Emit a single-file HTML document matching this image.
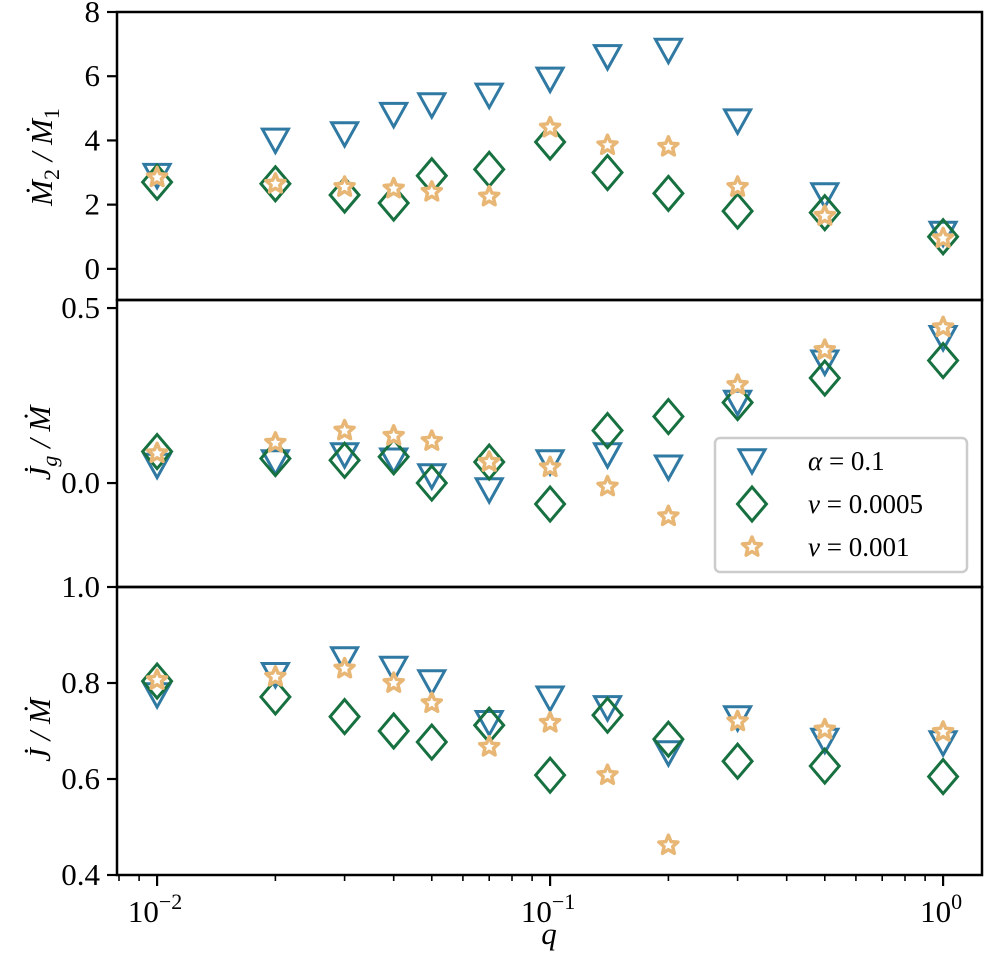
<!DOCTYPE html>
<html><head><meta charset="utf-8"><style>
body{margin:0;background:#fff}
svg{display:block}
text{font-family:"Liberation Serif","DejaVu Serif",serif;fill:#000}
</style></head><body>
<svg id="chart" width="985" height="956" viewBox="0 0 985 956" xmlns="http://www.w3.org/2000/svg"></svg>
<script>
const qValues = [0.01,0.02,0.03,0.04,0.05,0.07,0.1,0.14,0.2,0.3,0.5,1.0];
const mdotAlpha = [2.9,4.0,4.2,4.8,5.1,5.4,5.9,6.6,6.8,4.6,2.3,1.1];
const mdotNu5 = [2.7,2.65,2.3,2.05,2.9,3.1,3.95,3.0,2.35,1.8,1.75,1.0];
const mdotNu1 = [2.85,2.65,2.55,2.5,2.4,2.25,4.4,3.85,3.8,2.55,1.65,0.95];
const jgAlpha = [0.05,0.06,0.08,0.065,0.02,-0.02,0.06,0.08,0.045,0.23,0.345,0.415];
const jgNu5 = [0.09,0.07,0.065,0.075,0.0,0.06,-0.06,0.15,0.19,0.23,0.3,0.35];
const jgNu1 = [0.085,0.115,0.15,0.135,0.12,0.06,0.045,-0.01,-0.095,0.28,0.38,0.445];
const jAlpha = [0.775,0.817,0.85,0.83,0.802,0.717,0.768,0.748,0.654,0.727,0.68,0.675];
const jNu5 = [0.804,0.771,0.73,0.70,0.677,0.712,0.608,0.733,0.683,0.637,0.627,0.605];
const jNu1 = [0.806,0.813,0.83,0.8,0.758,0.667,0.717,0.608,0.462,0.72,0.703,0.698];
const panel1Ticks = [0,2,4,6,8];
const panel1TickLabels = ["0","2","4","6","8"];
const panel2Ticks = [0,0.5];
const panel2TickLabels = ["0.0","0.5"];
const panel3Ticks = [0.4,0.6,0.8,1.0];
const panel3TickLabels = ["0.4","0.6","0.8","1.0"];
const xMajorTicks = [-2,-1,0];
const xMajorLabels = ["\u22122","\u22121","0"];
const legendLabels = ["\u03b1 = 0.1","\u03bd = 0.0005","\u03bd = 0.001"];

const NS="http://www.w3.org/2000/svg";
const svg=document.getElementById('chart');
const C={a:'#2f79a3',n5:'#17703f',n1:'#e8b776'};
const L=117,R=982;
const xMin=-2.102,xMax=0.099;
function xs(q){return L+(Math.log10(q)-xMin)/(xMax-xMin)*(R-L);}
function mk(tag,attrs,parent){const e=document.createElementNS(NS,tag);for(const k in attrs)e.setAttribute(k,attrs[k]);(parent||svg).appendChild(e);return e;}
function ysF(top,bot,v0,v1){return v=>bot-(v-v0)/(v1-v0)*(bot-top);}

const panels=[
 {top:12,bot:300,v0:-0.97,v1:8.0,ticks:panel1Ticks,labels:panel1TickLabels,series:[mdotAlpha,mdotNu5,mdotNu1],name:'mdot-ratio'},
 {top:300,bot:587,v0:-0.297,v1:0.523,ticks:panel2Ticks,labels:panel2TickLabels,series:[jgAlpha,jgNu5,jgNu1],name:'jg-ratio'},
 {top:587,bot:875,v0:0.4,v1:1.0,ticks:panel3Ticks,labels:panel3TickLabels,series:[jAlpha,jNu5,jNu1],name:'j-ratio'}
];

function tri(g,x,y,col,s){return mk('polygon',{points:`${x-s},${y-s*0.87} ${x+s},${y-s*0.87} ${x},${y+s*0.93}`,fill:'none',stroke:col,'stroke-width':3},g);}
function dia(g,x,y,col,s){return mk('polygon',{points:`${x},${y-s} ${x+s*0.85},${y} ${x},${y+s} ${x-s*0.85},${y}`,fill:'none',stroke:col,'stroke-width':3},g);}
function star(g,x,y,col,s){let pts=[];for(let i=0;i<10;i++){const r=i%2?s*0.45:s;const a=-Math.PI/2+i*Math.PI/5;pts.push((x+r*Math.cos(a)).toFixed(1)+','+(y+r*Math.sin(a)).toFixed(1));}return mk('polygon',{points:pts.join(' '),fill:'#fff',stroke:col,'stroke-width':3.5,'stroke-linejoin':'round'},g);}

const drawers=[[tri,C.a,13,'alpha'],[dia,C.n5,17,'nu-0005'],[star,C.n1,10,'nu-001']];

panels.forEach((p,pi)=>{
 const ys=ysF(p.top,p.bot,p.v0,p.v1);
 const g=mk('g',{});
 
 
 p.ticks.forEach((t,i)=>{
  const y=ys(t);
  const tk=mk('line',{x1:L-10,x2:L,y1:y,y2:y,stroke:'#000','stroke-width':2.2},g);
  
  
  const tx=mk('text',{x:L-17,y:y+10,'text-anchor':'end','font-size':31},g);
  tx.textContent=p.labels[i];
  
  
 });
 [0,1,2].forEach(si=>{
  const [fn,col,sz,nm]=drawers[si];
  const sg=mk('g',{},g);
  
  
  p.series[si].forEach((v,i)=>{
   const m=fn(sg,xs(qValues[i]),ys(v),col,sz);
   
   
  });
 });
 const fr=mk('rect',{x:L,y:p.top,width:R-L,height:p.bot-p.top,fill:'none',stroke:'#000','stroke-width':2.5},g);
 
 
});

const xg=mk('g',{});


for(let d=-3;d<=0;d++){for(let m=1;m<10;m++){const lv=d+Math.log10(m);if(lv<xMin||lv>xMax)continue;const x=L+(lv-xMin)/(xMax-xMin)*(R-L);
 const t=mk('line',{x1:x,x2:x,y1:875,y2:m===1?886:881,stroke:'#000','stroke-width':m===1?2.2:1.6},xg);
 
 }}
xMajorTicks.forEach((d,i)=>{
 const x=L+(d-xMin)/(xMax-xMin)*(R-L);
 const t=mk('text',{x:x-2,y:922,'text-anchor':'middle','font-size':31},xg);
 
 
 t.appendChild(document.createTextNode('10'));
 const s=mk('tspan',{dy:-13,'font-size':22},t);s.textContent=xMajorLabels[i];
});
const xt=mk('text',{x:549,y:944,'text-anchor':'middle','font-size':31,'font-style':'italic'},xg);
xt.textContent='q';



function ytitle(cx,cy,parts,name){
 const t=mk('text',{x:0,y:0,'font-size':31,'font-style':'italic','text-anchor':'middle',transform:`translate(${cx},${cy}) rotate(-90)`});
 
 
 parts.forEach(pt=>{const s=mk('tspan',pt.a||{},t);s.textContent=pt.t;});
}
ytitle(52,157,[{t:'\u1E40'},{t:'2',a:{dy:7,'font-size':22,'font-style':'normal'}},{t:' / \u1E40',a:{dy:-7}},{t:'1',a:{dy:7,'font-size':22,'font-style':'normal'}}],'y-axis-title-mdot');
ytitle(50,443,[{t:'J\u0307'},{t:'g',a:{dy:7,'font-size':22}},{t:' / \u1E40',a:{dy:-7}}],'y-axis-title-jg');
ytitle(50,730,[{t:'J\u0307 / \u1E40'}],'y-axis-title-j');

const lg=mk('g',{});


const lb=mk('rect',{x:715,y:438,width:252,height:134,rx:5,fill:'#fff','fill-opacity':0.85,stroke:'#cccccc','stroke-width':2.5},lg);


const rowsY=[461,504,547];
[0,1,2].forEach(i=>{
 const [fn,col,sz,nm]=drawers[i];
 const m=fn(lg,752,rowsY[i],col,i===1?17:(i===0?13:10));
 
 
 const t=mk('text',{x:808,y:rowsY[i]+9,'font-size':27},lg);
 
 
 const parts=legendLabels[i].split(' ');
 const s1=mk('tspan',{'font-style':'italic'},t);s1.textContent=parts[0];
 const s2=mk('tspan',{},t);s2.textContent=' '+parts.slice(1).join(' ');
});
</script>
</body></html>
